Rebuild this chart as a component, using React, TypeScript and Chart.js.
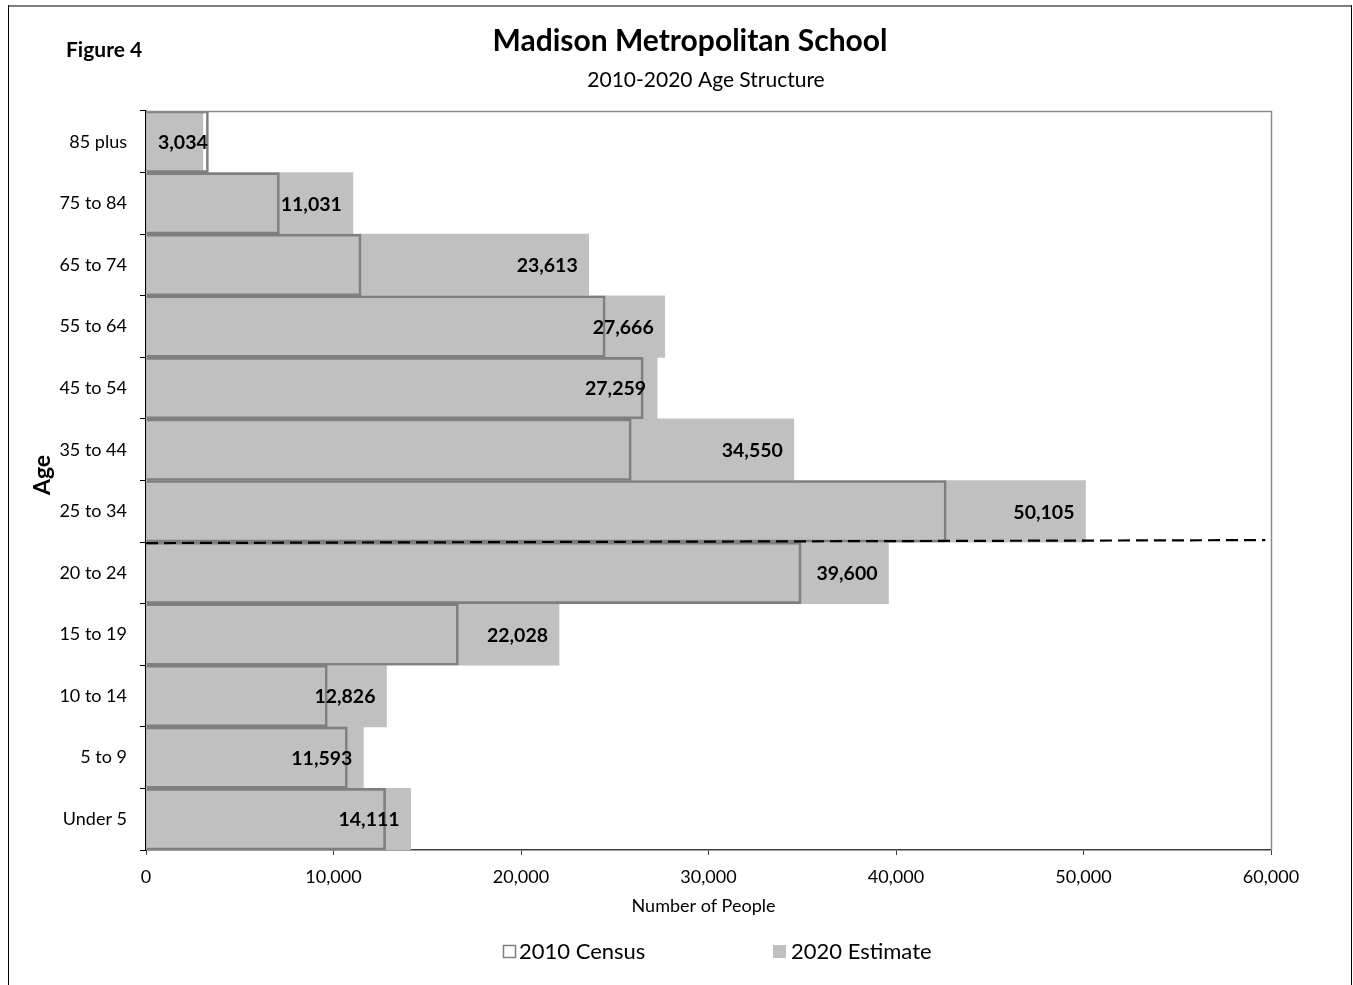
import React, { useEffect, useRef } from "react";
import { Chart, registerables } from "chart.js";

Chart.register(...registerables);

const ageGroups = [
  "85 plus",
  "75 to 84",
  "65 to 74",
  "55 to 64",
  "45 to 54",
  "35 to 44",
  "25 to 34",
  "20 to 24",
  "15 to 19",
  "10 to 14",
  "5 to 9",
  "Under 5",
];

const census2010 = [3330, 7115, 11470, 24490, 26520, 25880, 42680, 34940, 16660, 9670, 10740, 12780];
const estimate2020 = [3034, 11031, 23613, 27666, 27259, 34550, 50105, 39600, 22028, 12826, 11593, 14111];

const seriesNames = ["2010 Census", "2020 Estimate"];
const xMin = 0;
const xMax = 60000;
const xStep = 10000;
const dividerBetween = ["25 to 34", "20 to 24"];
const dividerEndValue = 59700;

const chartTitle = "Madison Metropolitan School";
const chartSubtitle = "2010-2020 Age Structure";
const figureLabel = "Figure 4";
const yTitle = "Age";
const xTitle = "Number of People";

const FONT = "Lato, 'Open Sans', sans-serif";
const FILL = "#c0c0c0";
const OUTLINE = "#7f7f7f";

const decorPlugin = {
  id: "decor",
  afterDatasetsDraw(chart: any) {
    const ctx = chart.ctx;
    const area = chart.chartArea;
    const xs = chart.scales.x;
    const ys = chart.scales.y;
    ctx.save();

    // plot area border (top & right)
    ctx.strokeStyle = "#8c8c8c";
    ctx.lineWidth = 1.5;
    ctx.beginPath();
    ctx.moveTo(area.left, area.top + 0.5);
    ctx.lineTo(area.right + 0.5, area.top + 0.5);
    ctx.lineTo(area.right + 0.5, area.bottom);
    ctx.stroke();

    // data labels for 2020 estimate
    const meta = chart.getDatasetMeta(1);
    ctx.font = `bold 19.5px ${FONT}`;
    ctx.fillStyle = "#000";
    ctx.textBaseline = "middle";
    ctx.textAlign = "left";
    meta.data.forEach((bar: any, i: number) => {
      const txt = estimate2020[i].toLocaleString("en-US");
      const w = ctx.measureText(txt).width;
      let x = bar.x - 11 - w;
      if (x < area.left + 12) x = area.left + 12;
      ctx.fillText(txt, x, bar.y + 1);
    });

    // divider dashed line
    const i1 = ageGroups.indexOf(dividerBetween[0]);
    const i2 = ageGroups.indexOf(dividerBetween[1]);
    const yDiv = (ys.getPixelForValue(i1) + ys.getPixelForValue(i2)) / 2;
    ctx.strokeStyle = "#000";
    ctx.lineWidth = 2.2;
    ctx.setLineDash([12, 6]);
    ctx.beginPath();
    ctx.moveTo(xs.getPixelForValue(xMin), yDiv + 1);
    ctx.lineTo(xs.getPixelForValue(dividerEndValue), yDiv - 2);
    ctx.stroke();
    ctx.setLineDash([]);
    ctx.restore();
  },
  afterDraw(chart: any) {
    const ctx = chart.ctx;
    const area = chart.chartArea;
    ctx.save();

    // outer frame
    ctx.strokeStyle = "#808080";
    ctx.lineWidth = 2;
    ctx.beginPath();
    ctx.moveTo(8, 6);
    ctx.lineTo(1351, 6);
    ctx.stroke();
    ctx.strokeStyle = "#000";
    ctx.lineWidth = 1;
    ctx.beginPath();
    ctx.moveTo(8.5, 5);
    ctx.lineTo(8.5, 985);
    ctx.moveTo(1351.5, 5);
    ctx.lineTo(1351.5, 985);
    ctx.stroke();

    ctx.fillStyle = "#000";
    ctx.textBaseline = "middle";

    // titles
    ctx.textAlign = "center";
    ctx.font = `bold 30px ${FONT}`;
    ctx.fillText(chartTitle, 690, 41);
    ctx.font = `21px ${FONT}`;
    ctx.fillText(chartSubtitle, 706, 80);

    ctx.textAlign = "left";
    ctx.font = `bold 21px ${FONT}`;
    ctx.fillText(figureLabel, 66, 50);

    // x title
    ctx.textAlign = "center";
    ctx.font = `18px ${FONT}`;
    ctx.fillText(xTitle, (area.left + area.right) / 2 - 5, 906);

    // y title
    ctx.save();
    ctx.translate(43, 475);
    ctx.rotate(-Math.PI / 2);
    ctx.font = `bold 23px ${FONT}`;
    ctx.fillText(yTitle, 0, 0);
    ctx.restore();

    // legend
    ctx.textAlign = "left";
    ctx.font = `22px ${FONT}`;
    ctx.fillStyle = "#fff";
    ctx.fillRect(503, 945, 13, 13);
    ctx.strokeStyle = OUTLINE;
    ctx.lineWidth = 1.5;
    ctx.strokeRect(503.5, 945.5, 12, 12);
    ctx.fillStyle = "#000";
    ctx.fillText(seriesNames[0], 519, 952);
    ctx.fillStyle = FILL;
    ctx.fillRect(773, 945, 13, 13);
    ctx.fillStyle = "#000";
    ctx.fillText(seriesNames[1], 791, 952);

    ctx.restore();
  },
};

export default function App() {
  const ref = useRef<HTMLCanvasElement>(null);

  useEffect(() => {
    if (!ref.current) return;
    const chart = new Chart(ref.current, {
      type: "bar",
      data: {
        labels: ageGroups,
        datasets: [
          {
            label: seriesNames[0],
            data: census2010,
            backgroundColor: "rgba(0,0,0,0)",
            borderColor: OUTLINE,
            borderWidth: 2,
            borderSkipped: "start",
            grouped: false,
            categoryPercentage: 1,
            barPercentage: 1,
          },
          {
            label: seriesNames[1],
            data: estimate2020,
            backgroundColor: FILL,
            borderWidth: 0,
            grouped: false,
            categoryPercentage: 1,
            barPercentage: 1,
          },
        ],
      },
      options: {
        indexAxis: "y",
        responsive: false,
        animation: false,
        events: [],
        devicePixelRatio: 1,
        layout: { padding: { left: 0, top: 111, right: 82, bottom: 0 } },
        plugins: {
          legend: { display: false },
          title: { display: false },
          tooltip: { enabled: false },
        },
        scales: {
          x: {
            type: "linear",
            min: xMin,
            max: xMax,
            ticks: {
              stepSize: xStep,
              color: "#000",
              font: { family: FONT, size: 18 },
              padding: 11,
              maxRotation: 0,
              callback: (v: any) => Number(v).toLocaleString("en-US"),
            },
            grid: {
              drawOnChartArea: false,
              drawTicks: true,
              tickLength: 5,
              color: "#404040",
            },
            border: { color: "#404040", width: 1.5 },
            afterFit: (s: any) => {
              s.height = 135;
            },
          },
          y: {
            type: "category",
            ticks: {
              color: "#000",
              font: { family: FONT, size: 18 },
              padding: 13,
            },
            grid: {
              offset: true,
              drawOnChartArea: false,
              drawTicks: true,
              tickLength: 6,
              color: "#000",
            },
            border: { color: "#000", width: 1.5 },
            afterFit: (s: any) => {
              s.width = 146;
            },
          },
        },
      },
      plugins: [decorPlugin],
    });
    return () => chart.destroy();
  }, []);

  return (
    <canvas
      ref={ref}
      width={1353}
      height={985}
      style={{ position: "fixed", left: 0, top: 0, width: 1353, height: 985, background: "#fff" }}
    />
  );
}
